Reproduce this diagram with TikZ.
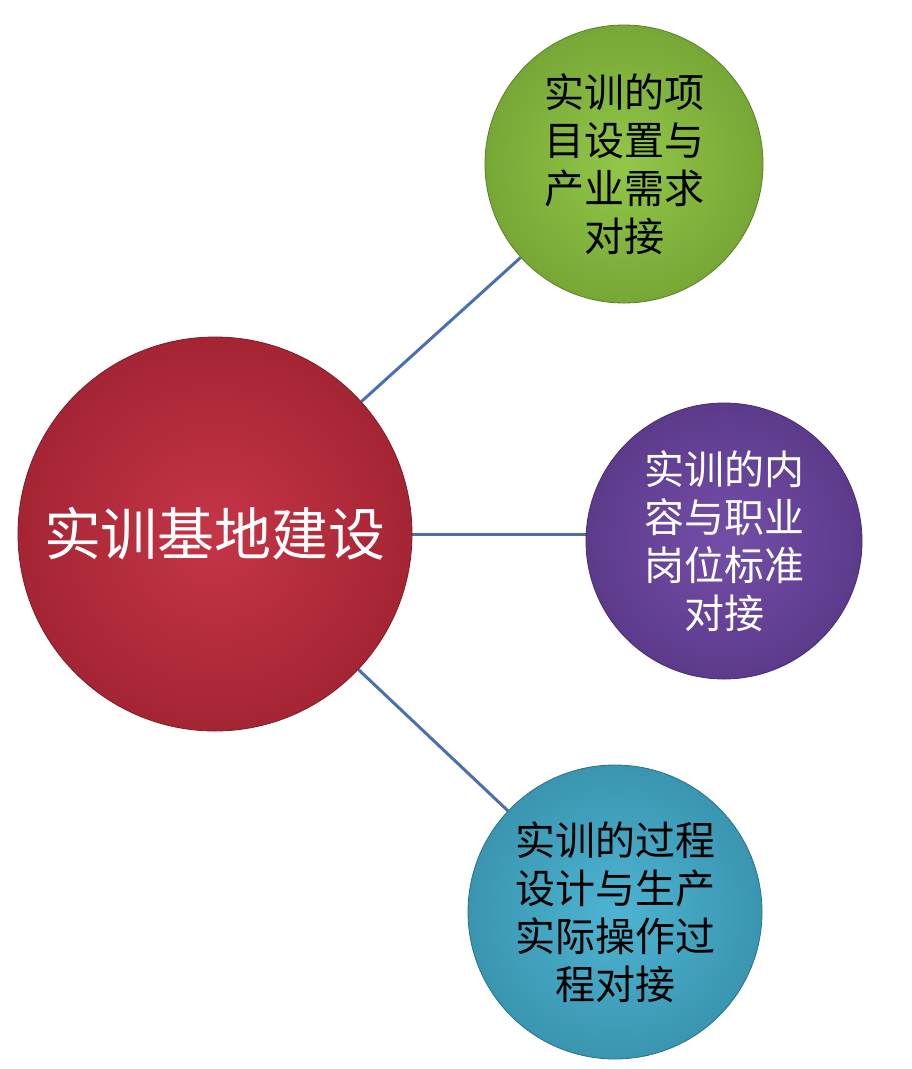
\documentclass[tikz,border=0pt]{standalone}
\usepackage{fontspec}
\usetikzlibrary{backgrounds}
\newfontfamily\cjk{Noto Sans CJK SC}
\definecolor{redc}{HTML}{C22B3D}
\definecolor{greenc}{HTML}{8CC43F}
\definecolor{purplec}{HTML}{6C45A4}
\definecolor{bluec}{HTML}{44B0CF}
\definecolor{linkc}{HTML}{4A70AE}
\tikzset{
  ball/.style={circle, inner sep=0pt, align=center, draw=#1!65!black, line width=0.8pt,
    inner color=#1!95!white, outer color=#1!85!black},
  link/.style={draw=linkc, line width=3pt},
  small/.style={font=\cjk\fontsize{40}{48}\selectfont},
}
\begin{document}
\begin{tikzpicture}[x=1pt,y=-1pt]
\useasboundingbox (0,0) rectangle (911,1069);
\node[ball=redc, minimum size=394pt, text=white,
  font=\cjk\fontsize{57}{60}\selectfont] (R) at (215,534) {实训基地建设};
\node[ball=greenc, minimum size=278pt, text=black, small]
  (G) at (624,164) {实训的项\\目设置与\\产业需求\\对接};
\node[ball=purplec, minimum size=276pt, text=white, small]
  (P) at (724,541) {实训的内\\容与职业\\岗位标准\\对接};
\node[ball=bluec, minimum size=294pt, text=black, small]
  (B) at (615,912) {实训的过程\\设计与生产\\实际操作过\\程对接};
\begin{scope}[on background layer]
\fill[white] (0,0) rectangle (911,1069);
\draw[link] (R) -- (G);
\draw[link] (R) -- (R -| P);
\draw[link] (R) -- (B);
\end{scope}
\end{tikzpicture}
\end{document}
